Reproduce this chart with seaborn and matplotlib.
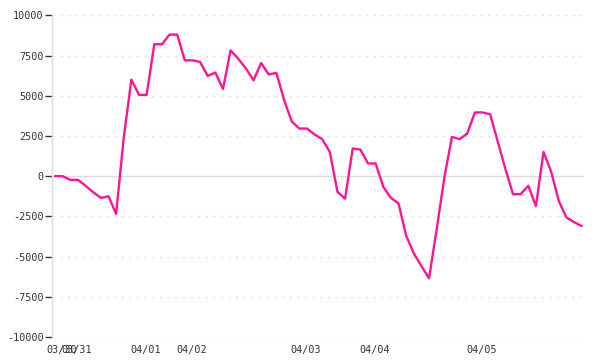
import matplotlib
matplotlib.use("Agg")
import matplotlib.pyplot as plt
import seaborn as sns
import pandas as pd

values = [0, 0, -230, -230, -600, -1000, -1350, -1250, -2350, 2400,
          6000, 5050, 5050, 8200, 8200, 8800, 8800, 7200, 7200, 7100,
          6230, 6440, 5420, 7820, 7300, 6700, 5960, 7040, 6320, 6420,
          4750, 3400, 2960, 2960, 2590, 2300, 1500, -975, -1400, 1720,
          1650, 790, 790, -660, -1350, -1700, -3700, -4800, -5590, -6350,
          -3300, -100, 2440, 2300, 2650, 3960, 3960, 3850, 2150, 450,
          -1120, -1120, -600, -1860, 1510, 270, -1550, -2570, -2860, -3100]
tick_idx = [1, 3, 12, 18, 33, 42, 56]
tick_labels = ["03/30", "03/31", "04/01", "04/02", "04/03", "04/04", "04/05"]
y_ticks = [-10000, -7500, -5000, -2500, 0, 2500, 5000, 7500, 10000]

df = pd.DataFrame({"i": range(len(values)), "v": values})

sns.set_style("white", {"ytick.left": True, "xtick.bottom": False})
plt.rcParams['font.family'] = ['DejaVu Sans Mono']
plt.rcParams['ytick.direction'] = 'out'

fig = plt.figure(figsize=(6, 3.6), dpi=100)
ax = fig.add_axes([52/600, 1-337/360, (584-52)/600, (337-15.3)/360])

for yt in y_ticks:
    if yt == 0:
        ax.axhline(yt, color="#dddddd", lw=1.0, zorder=1)
    else:
        ax.axhline(yt, color="#e6e6e6", lw=1.0, ls=(0, (2, 3.5)), zorder=1)

sns.lineplot(data=df, x="i", y="v", ax=ax, color="#ff1493", linewidth=1.7, zorder=3)

ax.set_xlim(-0.4, 69.3)
ax.set_ylim(-10000, 10000)
ax.set_yticks(y_ticks)
ax.set_yticklabels([str(t) for t in y_ticks])
ax.set_xticks([t - 0.15 for t in tick_idx])
ax.set_xticklabels(tick_labels)
ax.set_xlabel("")
ax.set_ylabel("")

for s in ["top", "right", "bottom"]:
    ax.spines[s].set_visible(False)
ax.spines["left"].set_color("#dddddd")
ax.spines["left"].set_linewidth(1.0)

ax.tick_params(axis="y", which="major", left=True, length=5, width=1,
               color="#333333", pad=1, labelsize=7.3, labelcolor="#333333")
ax.tick_params(axis="x", length=0, pad=6, labelsize=7.3, labelcolor="#333333")

fig.savefig("out.png", dpi=100)
